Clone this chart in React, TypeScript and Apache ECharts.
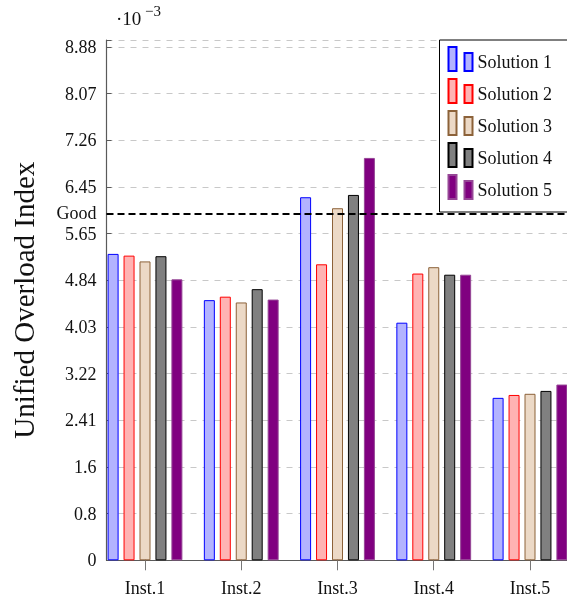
import React, { useEffect, useRef } from 'react';
import * as echarts from 'echarts';

const categories = ['Inst.1', 'Inst.2', 'Inst.3', 'Inst.4', 'Inst.5'];
const categoryPositions = [1, 2, 3, 4, 5];
const seriesNames = ['Solution 1', 'Solution 2', 'Solution 3', 'Solution 4', 'Solution 5'];
const solution1 = [5.3, 4.5, 6.28, 4.11, 2.81];
const solution2 = [5.27, 4.56, 5.12, 4.96, 2.86];
const solution3 = [5.17, 4.46, 6.09, 5.07, 2.88];
const solution4 = [5.26, 4.69, 6.32, 4.94, 2.93];
const solution5 = [4.86, 4.51, 6.96, 4.94, 3.04];
const yTickLabels = ['0', '0.8', '1.6', '2.41', '3.22', '4.03', '4.84', '5.65', '6.45', '7.26', '8.07', '8.88'];
const yTickTop = 8.88;
const yAxisMax = 9;
const goodValue = 6.0;
const goodLabel = 'Good';
const yAxisName = 'Unified Overload Index';

const FONT = '"Liberation Serif", "Times New Roman", serif';

const fills = ['#b3b3ff', '#ffb3b3', '#ecd9c6', '#808080', '#800080'];
const borders = ['#0000ff', '#ff0000', '#8c6239', '#000000', '#964696'];

export default function App() {
  const ref = useRef<HTMLDivElement>(null);
  useEffect(() => {
    if (!ref.current) return;
    const chart = echarts.init(ref.current, undefined, { renderer: 'svg' });
    const all = [solution1, solution2, solution3, solution4, solution5];
    const step = yTickTop / (yTickLabels.length - 1);
    const series: any[] = all.map((vals, i) => ({
      name: seriesNames[i],
      type: 'bar',
      xAxisIndex: 0,
      barWidth: 11,
      barGap: '45%',
      itemStyle: { color: fills[i], borderColor: borders[i], borderWidth: 1 },
      data: vals.map((v, j) => [categoryPositions[j], v]),
      z: 3,
    }));
    series[0].markLine = {
      symbol: 'none',
      silent: true,
      animation: false,
      data: [{ yAxis: goodValue }],
      lineStyle: { color: '#000', type: [7, 4], width: 1.8 },
      label: {
        show: true,
        position: 'start',
        formatter: goodLabel,
        distance: 10,
        fontSize: 18,
        fontFamily: FONT,
        color: '#111',
      },
    };
    const xCommon = {
      type: 'value',
      min: 0.6,
      max: 5.4,
      splitLine: { show: false },
    };
    chart.setOption({
      animation: false,
      grid: {
        left: 106.5,
        top: 40,
        right: 31.5,
        bottom: 42.7,
        show: false,
      },
      legend: {
        left: 439.5,
        top: 40,
        orient: 'vertical',
        selectedMode: false,
        data: seriesNames,
        icon: 'path://M0,0h8v24h-8z M16,6h8v18h-8z M0,30L0,30',
        itemWidth: 24,
        itemHeight: 30,
        itemGap: 0,
        padding: [6, 40, 6, 8],
        backgroundColor: '#fff',
        borderColor: '#000',
        borderWidth: 1,
        borderRadius: 0,
        textStyle: { fontSize: 18, fontFamily: FONT, color: '#111' },
      },
      xAxis: [
        {
          ...xCommon,
          position: 'bottom',
          axisLine: { show: true, onZero: false, lineStyle: { color: '#000', width: 1 } },
          axisTick: { show: true, inside: false, length: 10, customValues: categoryPositions, lineStyle: { color: '#777' } },
          axisLabel: {
            customValues: categoryPositions,
            formatter: (v: number) => categories[Math.round(v) - 1] ?? '',
            margin: 19,
            fontSize: 18,
            fontFamily: FONT,
            color: '#111',
          },
        },
        {
          ...xCommon,
          position: 'top',
          axisLine: { show: true, lineStyle: { color: '#5a5a5a' } },
          axisTick: { show: true, inside: false, length: 9, customValues: categoryPositions, lineStyle: { color: '#777' } },
          axisLabel: { show: false },
        },
      ],
      yAxis: {
        type: 'value',
        min: 0,
        max: yAxisMax,
        interval: step,
        axisLine: { show: true, lineStyle: { color: '#5a5a5a', width: 1.2 } },
        axisTick: { show: true, inside: true, length: 5, lineStyle: { color: '#5a5a5a' } },
        axisLabel: {
          formatter: (v: number) => {
            const idx = Math.round(v / step);
            if (Math.abs(v - idx * step) < 0.01 && idx >= 0 && idx < yTickLabels.length) return yTickLabels[idx];
            return '';
          },
          margin: 10,
          fontSize: 18,
          fontFamily: FONT,
          color: '#111',
        },
        splitLine: { show: true, lineStyle: { color: '#c8c8c8', type: [6, 6], width: 1 } },
        name: yAxisName,
        nameLocation: 'middle',
        nameGap: 68,
        nameTextStyle: { fontSize: 29, fontFamily: FONT, color: '#111' },
      },
      graphic: [
        {
          type: 'text',
          left: 116,
          top: 9,
          style: { text: '·10', fontSize: 19, fontFamily: FONT, fill: '#111' },
        },
        {
          type: 'text',
          left: 145,
          top: 3,
          style: { text: '−3', fontSize: 15, fontFamily: FONT, fill: '#111' },
        },
      ],
      series,
    });
    return () => chart.dispose();
  }, []);
  return <div ref={ref} style={{ position: 'fixed', left: 0, top: 0, width: 600, height: 603 }} />;
}
